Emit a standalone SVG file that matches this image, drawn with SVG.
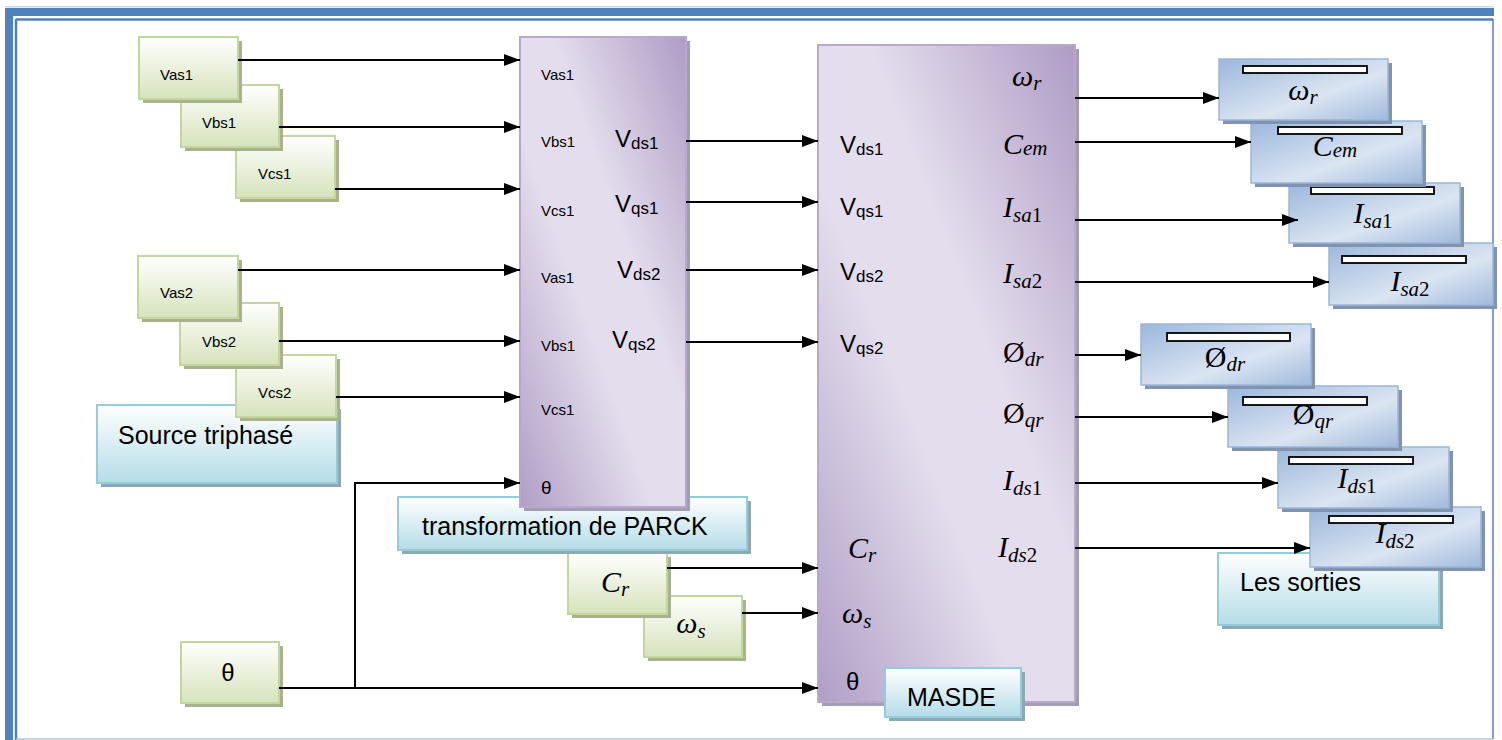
<svg xmlns="http://www.w3.org/2000/svg" width="1502" height="740" viewBox="0 0 1502 740">
<defs>
<style>
.gs{fill:#a9b28f}
.g{fill:url(#gG);stroke:#c3d69b;stroke-width:2}
.ps{fill:#a49db1}
.p{fill:url(#gP);stroke:#b7a8cc;stroke-width:2}
.bs{fill:#8193ad}
.b{fill:url(#gB);stroke:#9ab6da;stroke-width:1.5}
.bar{fill:#fff;stroke:#000;stroke-width:1.8}
.cs{fill:#8fa8af}
.c{fill:url(#gC);stroke:#93cddd;stroke-width:2}
.s15{font-family:"Liberation Sans",Arial,sans-serif;font-size:15px;fill:#000}
.lab{font-family:"Liberation Sans",Arial,sans-serif;font-size:25px;fill:#000}
.vv{font-family:"Liberation Sans",Arial,sans-serif;font-size:24px;fill:#000}
.sub{font-size:17px}
.m{font-family:"Liberation Serif","DejaVu Serif",serif;font-style:italic;font-size:30px;fill:#000}
.ms{font-size:21px}
.up{font-style:normal}
.th{font-family:"Liberation Sans",Arial,sans-serif;fill:#000}
.cn{stroke:#000;stroke-width:2;fill:none}
.ar{marker-end:url(#ah)}
</style>
<linearGradient id="gG" x1="0" y1="0" x2="0" y2="1"><stop offset="0" stop-color="#ffffff"/><stop offset="1" stop-color="#d6e3bb"/></linearGradient>
<linearGradient id="gC" x1="0" y1="0" x2="0" y2="1"><stop offset="0" stop-color="#ffffff"/><stop offset="1" stop-color="#b5dce7"/></linearGradient>
<linearGradient id="gP" x1="1" y1="0" x2="0" y2="1"><stop offset="0" stop-color="#ae9cc5"/><stop offset="0.4" stop-color="#e4dded"/><stop offset="0.6" stop-color="#e4dded"/><stop offset="1" stop-color="#b09fc6"/></linearGradient>
<linearGradient id="gB" x1="0" y1="0" x2="1" y2="1"><stop offset="0" stop-color="#9bb7dc"/><stop offset="0.6" stop-color="#dbe5f2"/><stop offset="1" stop-color="#a0badc"/></linearGradient>
<marker id="ah" markerWidth="16" markerHeight="12" refX="16" refY="6" orient="auto" markerUnits="userSpaceOnUse"><path d="M0,0L16,6L0,12z" fill="#000"/></marker>
</defs>
<rect width="1502" height="740" fill="#fff"/>
<g id="frame">
<rect x="5" y="6" width="1489" height="1.5" fill="#c6d9f1"/>
<rect x="5" y="8" width="1489" height="8" fill="#4f81bd"/>
<rect x="5" y="8" width="8" height="732" fill="#4f81bd"/>
<line x1="16" y1="19.5" x2="1493" y2="19.5" stroke="#4f81bd" stroke-width="2.5"/>
<line x1="16" y1="19" x2="16" y2="740" stroke="#4f81bd" stroke-width="2.5"/>
<line x1="1493" y1="19" x2="1493" y2="739" stroke="#4f81bd" stroke-width="1.5"/>
<line x1="16" y1="739" x2="1493" y2="739" stroke="#b4c4dc" stroke-width="1.5"/>
</g>
<g id="source-label">
<rect class="cs" x="101" y="409" width="240" height="78"/>
<rect class="c" x="97" y="405" width="240" height="78"/>
<text class="lab" x="118" y="444">Source triphasé</text>
</g>
<g id="Vcs1"><rect class="gs" x="240" y="140" width="99" height="62"/><rect class="g" x="236" y="136" width="99" height="62"/><text class="s15" x="258" y="179">Vcs1</text></g>
<g id="Vbs1"><rect class="gs" x="185" y="89" width="98" height="62"/><rect class="g" x="181" y="85" width="98" height="62"/><text class="s15" x="202" y="128">Vbs1</text></g>
<g id="Vas1"><rect class="gs" x="143" y="41" width="99" height="62"/><rect class="g" x="139" y="37" width="99" height="62"/><text class="s15" x="160" y="80">Vas1</text></g>
<g id="Vcs2"><rect class="gs" x="240" y="359" width="100" height="62"/><rect class="g" x="236" y="355" width="100" height="62"/><text class="s15" x="258" y="398">Vcs2</text></g>
<g id="Vbs2"><rect class="gs" x="184" y="307" width="99" height="62"/><rect class="g" x="180" y="303" width="99" height="62"/><text class="s15" x="202" y="347">Vbs2</text></g>
<g id="Vas2"><rect class="gs" x="142" y="260" width="100" height="62"/><rect class="g" x="138" y="256" width="100" height="62"/><text class="s15" x="160" y="298">Vas2</text></g>
<g id="theta-src"><rect class="gs" x="185" y="646" width="98" height="61"/><rect class="g" x="181" y="642" width="98" height="61"/><text class="th" x="228" y="681" font-size="24" text-anchor="middle">θ</text></g>
<g id="ws-src"><rect class="gs" x="648" y="600" width="98" height="61"/><rect class="g" x="644" y="596" width="98" height="61"/><text class="m" x="691" y="633" text-anchor="middle">ω<tspan class="ms" dy="5">s</tspan></text></g>
<g id="Cr-src"><rect class="gs" x="572" y="557" width="99" height="61"/><rect class="g" x="568" y="553" width="99" height="61"/><text class="m" x="615" y="592" text-anchor="middle">C<tspan class="ms" dy="4">r</tspan></text></g>
<g id="parck-label">
<rect class="cs" x="402" y="501" width="349" height="53"/>
<rect class="c" x="398" y="497" width="349" height="53"/>
<text class="lab" x="422" y="535">transformation de PARCK</text>
</g>
<g id="parck">
<rect class="ps" x="524" y="41" width="166" height="470"/>
<rect class="p" x="520" y="37" width="166" height="470"/>
<text class="s15" x="541" y="80">Vas1</text>
<text class="s15" x="541" y="147">Vbs1</text>
<text class="s15" x="541" y="216">Vcs1</text>
<text class="s15" x="541" y="283">Vas1</text>
<text class="s15" x="541" y="351">Vbs1</text>
<text class="s15" x="541" y="415">Vcs1</text>
<text class="th" x="541" y="494" font-size="19">θ</text>
<text class="vv" x="615" y="147">V<tspan class="sub" dy="2">ds1</tspan></text>
<text class="vv" x="615" y="212">V<tspan class="sub" dy="2">qs1</tspan></text>
<text class="vv" x="617" y="278">V<tspan class="sub" dy="2">ds2</tspan></text>
<text class="vv" x="612" y="348">V<tspan class="sub" dy="2">qs2</tspan></text>
</g>
<g id="masde">
<rect class="ps" x="822" y="49" width="257" height="657"/>
<rect class="p" x="818" y="45" width="257" height="657"/>
<text class="vv" x="840" y="153">V<tspan class="sub" dy="2">ds1</tspan></text>
<text class="vv" x="840" y="215">V<tspan class="sub" dy="2">qs1</tspan></text>
<text class="vv" x="840" y="280">V<tspan class="sub" dy="2">ds2</tspan></text>
<text class="vv" x="840" y="352">V<tspan class="sub" dy="2">qs2</tspan></text>
<text class="m" x="848" y="558">C<tspan class="ms" dy="4">r</tspan></text>
<text class="m" x="842" y="623">ω<tspan class="ms" dy="5">s</tspan></text>
<text class="th" x="846" y="690" font-size="24">θ</text>
<text class="m" x="1012" y="86">ω<tspan class="ms" dy="4">r</tspan></text>
<text class="m" x="1003" y="154">C<tspan class="ms" dy="1">em</tspan></text>
<text class="m" x="1003" y="217">I<tspan class="ms" dy="5">sa</tspan><tspan class="ms up">1</tspan></text>
<text class="m" x="1003" y="283">I<tspan class="ms" dy="5">sa</tspan><tspan class="ms up">2</tspan></text>
<text class="m" x="1003" y="362"><tspan class="up">Ø</tspan><tspan class="ms" dy="4">dr</tspan></text>
<text class="m" x="1003" y="423"><tspan class="up">Ø</tspan><tspan class="ms" dy="4">qr</tspan></text>
<text class="m" x="1003" y="490">I<tspan class="ms" dy="5">ds</tspan><tspan class="ms up">1</tspan></text>
<text class="m" x="998" y="557">I<tspan class="ms" dy="5">ds</tspan><tspan class="ms up">2</tspan></text>
</g>
<g id="masde-label">
<rect class="cs" x="889" y="672" width="136" height="49"/>
<rect class="c" x="885" y="668" width="136" height="49"/>
<text class="lab" x="907" y="706" font-size="24">MASDE</text>
</g>
<g id="sorties-label">
<rect class="cs" x="1222" y="557" width="221" height="72"/>
<rect class="c" x="1218" y="553" width="221" height="72"/>
<text class="lab" x="1240" y="591">Les sorties</text>
</g>
<g id="out-Ids2"><rect class="bs" x="1314" y="511" width="171" height="60"/><rect class="b" x="1310" y="507" width="171" height="60"/><rect class="bar" x="1329" y="516" width="124" height="7"/><text class="m" x="1395" y="543" text-anchor="middle">I<tspan class="ms" dy="5">ds</tspan><tspan class="ms up">2</tspan></text></g>
<g id="out-Ids1"><rect class="bs" x="1282" y="451" width="171" height="61"/><rect class="b" x="1278" y="447" width="171" height="61"/><rect class="bar" x="1289" y="457" width="124" height="7"/><text class="m" x="1357" y="488" text-anchor="middle">I<tspan class="ms" dy="5">ds</tspan><tspan class="ms up">1</tspan></text></g>
<g id="out-Oqr"><rect class="bs" x="1232" y="390" width="170" height="61"/><rect class="b" x="1228" y="386" width="170" height="61"/><rect class="bar" x="1243" y="397" width="124" height="8"/><text class="m" x="1313" y="424" text-anchor="middle"><tspan class="up">Ø</tspan><tspan class="ms" dy="4">qr</tspan></text></g>
<g id="out-Odr"><rect class="bs" x="1145" y="328" width="170" height="61"/><rect class="b" x="1141" y="324" width="170" height="61"/><rect class="bar" x="1167" y="333" width="123" height="8"/><text class="m" x="1225" y="367" text-anchor="middle"><tspan class="up">Ø</tspan><tspan class="ms" dy="4">dr</tspan></text></g>
<g id="out-Isa2"><rect class="bs" x="1333" y="247" width="164" height="62"/><rect class="b" x="1329" y="243" width="164" height="62"/><rect class="bar" x="1342" y="256" width="124" height="7"/><text class="m" x="1410" y="291" text-anchor="middle">I<tspan class="ms" dy="5">sa</tspan><tspan class="ms up">2</tspan></text></g>
<g id="out-Isa1"><rect class="bs" x="1293" y="187" width="171" height="60"/><rect class="b" x="1289" y="183" width="171" height="60"/><rect class="bar" x="1311" y="187" width="123" height="7"/><text class="m" x="1373" y="223" text-anchor="middle">I<tspan class="ms" dy="5">sa</tspan><tspan class="ms up">1</tspan></text></g>
<g id="out-Cem"><rect class="bs" x="1255" y="125" width="171" height="62"/><rect class="b" x="1251" y="121" width="171" height="62"/><rect class="bar" x="1278" y="127" width="124" height="7"/><text class="m" x="1335" y="156" text-anchor="middle">C<tspan class="ms" dy="1">em</tspan></text></g>
<g id="out-wr"><rect class="bs" x="1223" y="63" width="169" height="61"/><rect class="b" x="1219" y="59" width="169" height="61"/><rect class="bar" x="1243" y="66" width="124" height="7"/><text class="m" x="1303" y="100" text-anchor="middle">ω<tspan class="ms" dy="4">r</tspan></text></g>
<g id="connectors">
<line class="cn ar" x1="238" y1="60" x2="520" y2="60"/>
<line class="cn ar" x1="279" y1="127" x2="520" y2="127"/>
<line class="cn ar" x1="335" y1="189" x2="520" y2="189"/>
<line class="cn ar" x1="238" y1="270" x2="520" y2="270"/>
<line class="cn ar" x1="279" y1="341" x2="520" y2="341"/>
<line class="cn ar" x1="336" y1="397" x2="520" y2="397"/>
<polyline class="cn ar" points="355,688 355,483 520,483"/>
<line class="cn" x1="279" y1="688" x2="355" y2="688" stroke="#444"/>
<line class="cn ar" x1="355" y1="688" x2="818" y2="688"/>
<line class="cn ar" x1="686" y1="141" x2="818" y2="141"/>
<line class="cn ar" x1="686" y1="202" x2="818" y2="202"/>
<line class="cn ar" x1="686" y1="270" x2="818" y2="270"/>
<line class="cn ar" x1="686" y1="342" x2="818" y2="342"/>
<line class="cn ar" x1="667" y1="568" x2="818" y2="568"/>
<line class="cn ar" x1="742" y1="613" x2="818" y2="613"/>
<line class="cn ar" x1="1075" y1="98" x2="1219" y2="98"/>
<line class="cn ar" x1="1075" y1="142" x2="1251" y2="142"/>
<line class="cn ar" x1="1075" y1="220" x2="1298" y2="220"/>
<line class="cn ar" x1="1075" y1="282" x2="1329" y2="282"/>
<line class="cn ar" x1="1075" y1="355" x2="1141" y2="355"/>
<line class="cn ar" x1="1075" y1="417" x2="1228" y2="417"/>
<line class="cn ar" x1="1075" y1="483" x2="1278" y2="483"/>
<line class="cn ar" x1="1075" y1="548" x2="1310" y2="548"/>
</g>
</svg>
